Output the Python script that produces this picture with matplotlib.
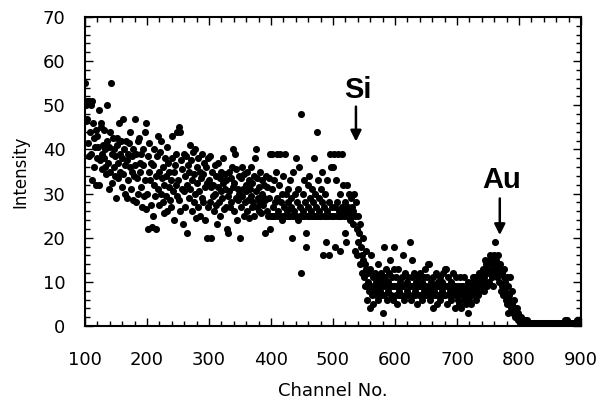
import numpy as np
import matplotlib
matplotlib.use("Agg")
import matplotlib.pyplot as plt
from matplotlib.ticker import MultipleLocator

# Channel numbers 100..899 (one point per channel)
channel_start = 100

int_100 = [55, 50, 46.5, 51, 47, 41.5, 51, 38.5, 44, 50,
           39, 51, 33, 46, 42.5, 36, 40.5, 32, 44.5, 38,
           43, 40.5, 49, 32, 37.5, 45, 46, 39, 35.5, 41,
           38, 44.5, 36, 40, 34.5, 42, 50, 37, 31, 40.5,
           35, 44, 55, 32.5, 39, 42.5, 36, 40, 34, 38.5,
           29, 41, 42.5, 37, 33.5, 46, 39, 35, 42, 31.5,
           38, 34.5, 47, 40, 36.5, 30, 42, 37.5, 29, 39,
           33, 41.5, 36, 44, 31, 38.5, 35, 40, 28.5, 34,
           47, 36.5, 28, 39, 33.5, 42, 30, 42.5, 37, 35,
           31.5, 39, 27, 36.5, 40, 29.5, 44, 33, 46, 26.5]
int_200 = [30, 38.5, 22, 35, 41.5, 33, 27.5, 37, 22.5, 25,
           36.5, 32, 40, 29.5, 22, 34, 38.5, 43, 31, 27.5,
           35, 39.5, 30, 42, 33.5, 28, 36, 25.5, 32, 38,
           29.5, 34, 40.5, 26, 37, 31.5, 35, 28.5, 27, 33,
           38, 43, 30.5, 35, 24, 36.5, 32, 39, 29.5, 44,
           33, 45, 28.5, 44, 26, 37.5, 31, 35.5, 23, 39,
           30.5, 34, 27, 38.5, 21, 32, 36.5, 29, 35, 41,
           31, 37.5, 26, 33, 39.5, 28, 34.5, 40, 30, 24.5,
           36, 32.5, 27, 38, 30.5, 35, 25, 33.5, 39, 29,
           34.5, 28, 37, 31.5, 24, 36, 20, 32.5, 27, 38]
int_300 = [33, 38.5, 28, 31.5, 20, 35, 29.5, 32, 26, 36.5,
           30, 27.5, 34, 23, 31.5, 37, 28, 33.5, 25, 30.5,
           35, 29, 32.5, 38, 26.5, 31, 34.5, 27, 33, 22,
           29.5, 21, 35, 30.5, 27, 33.5, 28, 36, 31.5, 40,
           26, 32.5, 39, 29, 35.5, 24, 31, 28.5, 34, 30,
           20, 33.5, 27, 36, 29.5, 31, 25, 34.5, 28, 32,
           30.5, 26, 35, 28.5, 33, 24.5, 31, 29.5, 36, 27,
           32.5, 28, 34, 25, 38, 30.5, 40, 27, 33.5, 29,
           26, 31.5, 28, 35, 25.5, 30, 33, 27.5, 29, 32,
           21, 28.5, 34, 26, 31.5, 25, 29, 33.5, 22, 39]
int_400 = [25, 31, 39, 27, 25, 33, 28, 25, 35, 39,
           29, 25, 26, 32, 25, 39, 28, 24, 30, 25,
           34, 27, 39, 25, 30, 26, 25, 31, 28, 25,
           33, 25, 27, 29, 20, 25, 35, 26, 25, 30,
           38, 25, 28, 24, 31, 36, 25, 27, 48, 12,
           25, 30, 26, 33, 25, 28, 21, 18, 25, 32,
           27, 25, 34, 29, 25, 26, 31, 25, 28, 38,
           25, 30, 27, 25, 44, 33, 25, 26, 29, 25,
           31, 25, 28, 35, 16, 25, 27, 30, 25, 19,
           26, 33, 25, 28, 16, 39, 25, 36, 27, 25]
int_500 = [36, 25, 39, 27, 18, 33, 25, 28, 39, 26,
           25, 17, 30, 25, 39, 27, 32, 25, 26, 21,
           28, 19, 32, 25, 27, 30, 25, 26, 24, 29,
           25, 27, 23, 26, 30, 25, 17, 28, 22, 16,
           25, 19, 21, 14, 23, 18, 16, 12, 20, 15,
           11, 14, 9, 13, 17, 6, 10, 12, 8, 4,
           13, 9, 16, 7, 11, 5, 9, 12, 8, 10,
           7, 9, 14, 6, 11, 9, 8, 12, 7, 10,
           9, 3, 18, 7, 11, 9, 13, 6, 8, 10,
           9, 12, 15, 7, 9, 11, 6, 9, 18, 13]
int_600 = [9, 7, 11, 5, 9, 13, 8, 7, 10, 9,
           7, 11, 9, 16, 6, 9, 12, 7, 9, 10,
           8, 11, 7, 9, 19, 9, 6, 15, 11, 7,
           9, 12, 8, 7, 10, 9, 5, 11, 9, 7,
           12, 9, 7, 10, 6, 9, 11, 8, 7, 13,
           9, 7, 11, 14, 8, 14, 9, 6, 10, 7,
           9, 11, 4, 8, 9, 7, 12, 9, 5, 10,
           7, 9, 11, 6, 9, 8, 10, 7, 12, 9,
           13, 7, 9, 13, 5, 9, 11, 7, 8, 9,
           6, 10, 9, 7, 12, 8, 4, 9, 11, 7]
int_700 = [8, 6, 9, 5, 7, 11, 9, 4, 8, 7,
           9, 6, 11, 8, 5, 9, 7, 10, 3, 8,
           6, 9, 7, 5, 10, 8, 11, 7, 9, 11,
           8, 6, 10, 9, 7, 12, 9, 8, 11, 10,
           12, 9, 13, 8, 11, 15, 10, 14, 9, 12,
           13, 10, 15, 16, 12, 15, 11, 14, 9, 13,
           16, 19, 12, 15, 14, 11, 16, 13, 10, 12,
           14, 8, 12, 9, 7, 11, 13, 10, 8, 6,
           5, 11, 3, 9, 7, 11, 6, 4, 8, 5,
           4, 3, 6, 2, 4, 3, 4, 2, 3, 1.4]
int_800 = [2.1, 1.4, 0.7, 2.1, 1.4, 0.7, 1.4, 0.7, 0, 1.4,
           0.7, 0, 0.7, 1.4, 0, 0.7, 0.7, 0, 0.7, 0,
           0, 0.7, 0, 0.7, 0, 0, 0.7, 0, 0.7, 0,
           0.7, 0, 0, 0.7, 0, 0.7, 0, 0, 0.7, 0,
           0, 0.7, 0, 0, 0.7, 0, 0.7, 0, 0, 0.7,
           0, 0, 0.7, 0, 0.7, 0, 0, 0.7, 0, 0,
           0.7, 0, 0, 0.7, 0, 0.7, 0, 0, 0.7, 0,
           0, 0.7, 0, 0, 1.4, 0.7, 0, 1.4, 0, 0.7,
           0, 0.7, 0, 0.7, 0, 0, 0.7, 0, 0.7, 0,
           0.7, 0, 0.7, 1.4, 0, 0.7, 1.4, 0, 0.7, 0]

intensity = np.array(int_100 + int_200 + int_300 + int_400 +
                     int_500 + int_600 + int_700 + int_800, dtype=float)
channels = np.arange(channel_start, channel_start + len(intensity))

# Peak annotations
peak_labels = ["Si", "Au"]
peak_arrow_x = [537, 769]
peak_arrow_top = [49.7, 28.9]
peak_arrow_tip = [41.8, 20.6]
peak_text_x = [540, 772]
peak_text_y = [51.7, 31.2]

fig = plt.figure(figsize=(6.0, 4.03), dpi=100)
ax = fig.add_axes([85 / 600, 77 / 403, 496 / 600, 309 / 403])

ax.scatter(channels, intensity, s=26, c="black", linewidths=0, zorder=3)

ax.set_xlim(100, 900)
ax.set_ylim(0, 70)
ax.xaxis.set_major_locator(MultipleLocator(100))
ax.xaxis.set_minor_locator(MultipleLocator(20))
ax.yaxis.set_major_locator(MultipleLocator(10))
ax.yaxis.set_minor_locator(MultipleLocator(2))

for s in ax.spines.values():
    s.set_linewidth(1.5)
ax.tick_params(which="both", direction="in", top=True, right=True, width=1.0)
ax.tick_params(which="major", length=6)
ax.tick_params(which="minor", length=3.5)
ax.tick_params(axis="x", which="major", pad=18, labelsize=13)
ax.tick_params(axis="y", which="major", pad=14, labelsize=13)

ax.set_xlabel("Channel No.", fontsize=13, labelpad=9)
ax.set_ylabel("Intensity", fontsize=12, labelpad=10)

for lab, ax_x, top, tip, tx, ty in zip(peak_labels, peak_arrow_x, peak_arrow_top,
                                      peak_arrow_tip, peak_text_x, peak_text_y):
    ax.annotate("", xy=(ax_x, tip), xytext=(ax_x, top),
                arrowprops=dict(arrowstyle="-|>", lw=1.8, color="black",
                                mutation_scale=16, shrinkA=0, shrinkB=0))
    ax.text(tx, ty, lab, ha="center", va="baseline", fontsize=21,
            fontweight="bold", family="Liberation Sans")

fig.savefig("out.png", dpi=100)
